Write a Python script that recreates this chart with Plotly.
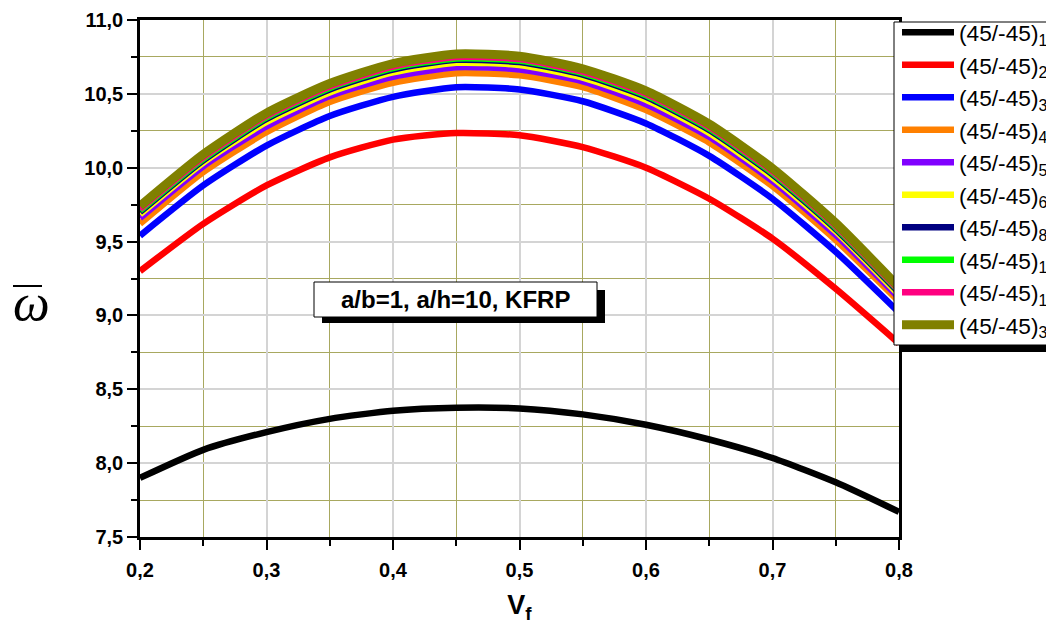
import plotly.graph_objects as go

# Fibre volume fraction
vf = [0.20, 0.25, 0.30, 0.35, 0.40, 0.45, 0.50, 0.55, 0.60, 0.65, 0.70, 0.75, 0.80]

# Non-dimensional frequency for each lamination scheme (45/-45)_n
w_n1 = [7.90, 8.09, 8.21, 8.30, 8.355, 8.375, 8.37, 8.33, 8.26, 8.16, 8.035, 7.87, 7.67]
w_n2 = [9.30, 9.62, 9.88, 10.07, 10.19, 10.235, 10.22, 10.14, 10.00, 9.79, 9.52, 9.18, 8.81]
w_n3 = [9.54, 9.88, 10.15, 10.35, 10.48, 10.545, 10.53, 10.45, 10.30, 10.08, 9.79, 9.43, 9.02]
w_n4 = [9.62, 9.97, 10.24, 10.445, 10.575, 10.64, 10.625, 10.545, 10.39, 10.17, 9.875, 9.51, 9.095]
w_n5 = [9.66, 10.01, 10.28, 10.485, 10.615, 10.68, 10.665, 10.585, 10.43, 10.21, 9.91, 9.545, 9.12]
w_n6 = [9.685, 10.035, 10.31, 10.51, 10.645, 10.71, 10.695, 10.61, 10.46, 10.235, 9.935, 9.57, 9.14]
w_n8 = [9.70, 10.05, 10.33, 10.53, 10.665, 10.73, 10.715, 10.63, 10.48, 10.255, 9.955, 9.585, 9.155]
w_n12 = [9.71, 10.06, 10.34, 10.54, 10.675, 10.74, 10.725, 10.64, 10.49, 10.265, 9.965, 9.595, 9.165]
w_n16 = [9.72, 10.07, 10.35, 10.55, 10.685, 10.75, 10.735, 10.65, 10.50, 10.275, 9.975, 9.605, 9.17]
w_n32 = [9.74, 10.09, 10.37, 10.57, 10.705, 10.77, 10.755, 10.67, 10.52, 10.295, 9.995, 9.625, 9.19]

layer_counts = ["1", "2", "3", "4", "5", "6", "8", "12", "16", "32"]
series = [w_n1, w_n2, w_n3, w_n4, w_n5, w_n6, w_n8, w_n12, w_n16, w_n32]
colors = ["#000000", "#FF0000", "#0000FF", "#FF8000", "#8000FF",
          "#FFFF00", "#000080", "#00FF00", "#FF0080", "#808000"]
widths = [6.5, 6.5, 6.5, 6.5, 6.5, 6.5, 6.5, 6.5, 6.5, 9]

W, H = 1046, 624
L, R, T, B = 140, 899, 20, 537


def px_x(p):
    return (p - L) / (R - L)


def px_y(p):
    return (B - p) / (B - T)


fig = go.Figure()
for n, ys, c, w in zip(layer_counts, series, colors, widths):
    fig.add_trace(go.Scatter(
        x=vf, y=ys, mode="lines", line=dict(color=c, width=w, shape="spline", smoothing=0.6),
        name=f"(45/-45)<sub>{n}</sub>",
    ))

tick_font = dict(family="Liberation Sans, Arial", size=20, color="black", weight="bold")
axis_common = dict(
    showline=True, linecolor="black", linewidth=2.5, mirror=True,
    ticks="outside", ticklen=10, tickwidth=2, tickcolor="black",
    showgrid=True, gridcolor="#d4d4d4", gridwidth=1.5,
    tickfont=tick_font, tickformat=".1f", zeroline=False,
)

fig.update_xaxes(
    range=[0.2, 0.8], dtick=0.1, tick0=0.2, ticklabelstandoff=3,
    minor=dict(dtick=0.05, ticks="outside", ticklen=6, tickwidth=2, tickcolor="black",
               showgrid=True, gridcolor="#a8a860", gridwidth=1.2),
    title=dict(text="<b>V<sub>f</sub></b>", font=dict(family="Liberation Sans, Arial", size=27, color="black"),
               standoff=16),
    **axis_common,
)
fig.update_yaxes(
    range=[7.5, 11.0], dtick=0.5, tick0=7.5,
    minor=dict(dtick=0.25, ticks="outside", ticklen=6, tickwidth=2, tickcolor="black",
               showgrid=True, gridcolor="#a8a860", gridwidth=1.2),
    **axis_common,
)

# Caption box with drop shadow
fig.add_shape(type="rect", xref="paper", yref="paper",
              x0=px_x(322), x1=px_x(605), y0=px_y(323), y1=px_y(290),
              fillcolor="black", line=dict(width=0), layer="above")
fig.add_shape(type="rect", xref="paper", yref="paper",
              x0=px_x(314), x1=px_x(597), y0=px_y(317), y1=px_y(282),
              fillcolor="white", line=dict(color="black", width=1), layer="above")
fig.add_annotation(x=px_x(455.5), y=px_y(299.5), xref="paper", yref="paper",
                   text="<b>a/b=1, a/h=10, KFRP</b>", showarrow=False,
                   font=dict(family="Liberation Sans, Arial", size=24, color="black"))

# Legend frame with drop shadow (entries are drawn on top by the legend itself)
fig.add_shape(type="rect", xref="paper", yref="paper",
              x0=px_x(900), x1=px_x(1060), y0=px_y(352), y1=px_y(28),
              fillcolor="black", line=dict(width=0), layer="above")
fig.add_shape(type="rect", xref="paper", yref="paper",
              x0=px_x(894), x1=px_x(1060), y0=px_y(345), y1=px_y(22),
              fillcolor="white", line=dict(color="black", width=1), layer="above")

# Y-axis symbol: omega with an overbar
fig.add_annotation(x=px_x(11), y=px_y(302), xref="paper", yref="paper",
                   text="<i>ω</i>", showarrow=False,
                   font=dict(family="Liberation Serif, Times New Roman", size=52, color="black"))
fig.add_shape(type="line", xref="paper", yref="paper",
              x0=px_x(13), x1=px_x(42), y0=px_y(286), y1=px_y(286),
              line=dict(color="black", width=2))

fig.update_layout(
    width=W, height=H,
    margin=dict(l=L, r=W - R, t=T, b=H - B, autoexpand=False),
    paper_bgcolor="white", plot_bgcolor="white",
    separators=", ",
    showlegend=True,
    legend=dict(
        x=px_x(897), y=px_y(11), xanchor="left", yanchor="top",
        bgcolor="rgba(0,0,0,0)", borderwidth=0, maxheight=600,
        font=dict(family="Liberation Sans, Arial", size=22.7, color="black"),
        tracegroupgap=0, itemwidth=52,
    ),
)

fig.write_html("out.html")
